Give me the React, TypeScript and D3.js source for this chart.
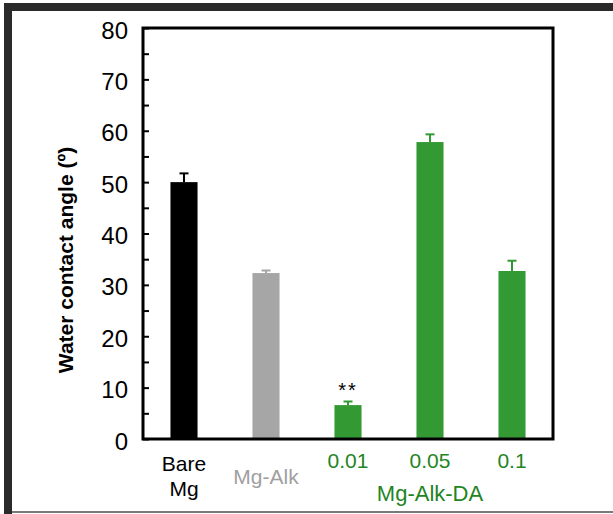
import React, { useEffect, useRef } from "react";
import { select, scaleBand, scaleLinear, axisLeft, range } from "d3";

const categories = ["Bare Mg", "Mg-Alk", "0.01", "0.05", "0.1"];
const labelLines = [["Bare", "Mg"], ["Mg-Alk"], ["0.01"], ["0.05"], ["0.1"]];
const values = [50.0, 32.3, 6.6, 57.8, 32.7];
const errors = [1.7, 0.5, 0.7, 1.5, 2.0];
const marks = ["", "", "**", "", ""];
const groupLabel = "Mg-Alk-DA";
const groupMembers = ["0.01", "0.05", "0.1"];
const yTicks = [0, 10, 20, 30, 40, 50, 60, 70, 80];

const barColors = ["#000000", "#a6a6a6", "#339933", "#339933", "#339933"];
const textColors = ["#000000", "#a0a0a0", "#1f851f", "#1f851f", "#1f851f"];
const font = "'Liberation Sans', Arial, Helvetica, sans-serif";

export default function App() {
  const svgRef = useRef<SVGSVGElement>(null);

  useEffect(() => {
    const svg = select(svgRef.current);
    svg.selectAll("*").remove();

    const left = 143, right = 553, top = 28, bottom = 439;

    const x = scaleBand<string>()
      .domain(categories)
      .range([left, right])
      .paddingInner(0.67)
      .paddingOuter(0.335);
    const y = scaleLinear().domain([0, 80]).range([bottom, top]);

    // outer frame of the figure
    svg.append("rect").attr("x", 4).attr("y", 3).attr("width", 609).attr("height", 8).attr("fill", "#2a2a2a");
    svg.append("rect").attr("x", 4).attr("y", 3).attr("width", 8).attr("height", 511).attr("fill", "#2a2a2a");
    svg.append("rect").attr("x", 12).attr("y", 511).attr("width", 601).attr("height", 2).attr("fill", "#7a7a7a");

    // bars
    svg.selectAll(".bar")
      .data(values)
      .join("rect")
      .attr("class", "bar")
      .attr("x", (d, i) => x(categories[i])!)
      .attr("y", d => y(d))
      .attr("width", x.bandwidth())
      .attr("height", d => y(0) - y(d))
      .attr("fill", (d, i) => barColors[i]);

    // error bars (upper only)
    const err = svg.append("g");
    values.forEach((v, i) => {
      const cx = x(categories[i])! + x.bandwidth() / 2;
      const c = barColors[i];
      err.append("line").attr("x1", cx).attr("x2", cx)
        .attr("y1", y(v)).attr("y2", y(v + errors[i]))
        .attr("stroke", c).attr("stroke-width", 2);
      err.append("line").attr("x1", cx - 4.5).attr("x2", cx + 4.5)
        .attr("y1", y(v + errors[i])).attr("y2", y(v + errors[i]))
        .attr("stroke", c).attr("stroke-width", 2);
      if (marks[i]) {
        err.append("text")
          .attr("x", cx).attr("y", y(v + errors[i]) - 4)
          .attr("text-anchor", "middle")
          .attr("font-family", font).attr("font-size", 20)
          .attr("letter-spacing", 2)
          .text(marks[i]);
      }
    });

    // y axis: minor ticks every 5, labels every 10
    svg.append("g")
      .attr("transform", `translate(${left},0)`)
      .call(axisLeft(y).tickValues(range(0, 81, 5)).tickSize(-6).tickFormat(() => ""))
      .call(g => g.select(".domain").remove())
      .call(g => g.selectAll("line").attr("stroke", "#000").attr("stroke-width", 2));

    svg.append("g")
      .attr("transform", `translate(${left},0)`)
      .call(axisLeft(y).tickValues(yTicks).tickSize(0).tickPadding(15))
      .call(g => g.select(".domain").remove())
      .call(g => g.selectAll("text")
        .attr("font-family", font).attr("font-size", 24).attr("fill", "#000")
        .attr("dy", "0.42em"));

    // plot box
    svg.append("rect")
      .attr("x", left).attr("y", top)
      .attr("width", right - left).attr("height", bottom - top)
      .attr("fill", "none").attr("stroke", "#000").attr("stroke-width", 3);

    // x labels
    const xl = svg.append("g").attr("font-family", font).attr("font-size", 21).attr("text-anchor", "middle");
    labelLines.forEach((lines, i) => {
      const cx = x(categories[i])! + x.bandwidth() / 2;
      const base = lines.length > 1 ? 471 : (i === 1 ? 484 : 468);
      lines.forEach((t, k) => {
        xl.append("text").attr("x", cx).attr("y", base + k * 25)
          .attr("fill", textColors[i]).text(t);
      });
    });
    const gx0 = x(groupMembers[0])! + x.bandwidth() / 2;
    const gx1 = x(groupMembers[groupMembers.length - 1])! + x.bandwidth() / 2;
    xl.append("text").attr("x", (gx0 + gx1) / 2).attr("y", 501)
      .attr("font-size", 22).attr("fill", "#1f851f").text(groupLabel);

    // y title
    svg.append("text")
      .attr("transform", `translate(73,${260}) rotate(-90)`)
      .attr("text-anchor", "middle")
      .attr("font-family", font).attr("font-size", 21).attr("font-weight", "bold")
      .text("Water contact angle (º)");
  }, []);

  return (
    <div style={{ position: "absolute", left: 0, top: 0 }}>
      <svg ref={svgRef} width={613} height={514} style={{ display: "block", background: "#fff" }} />
    </div>
  );
}
